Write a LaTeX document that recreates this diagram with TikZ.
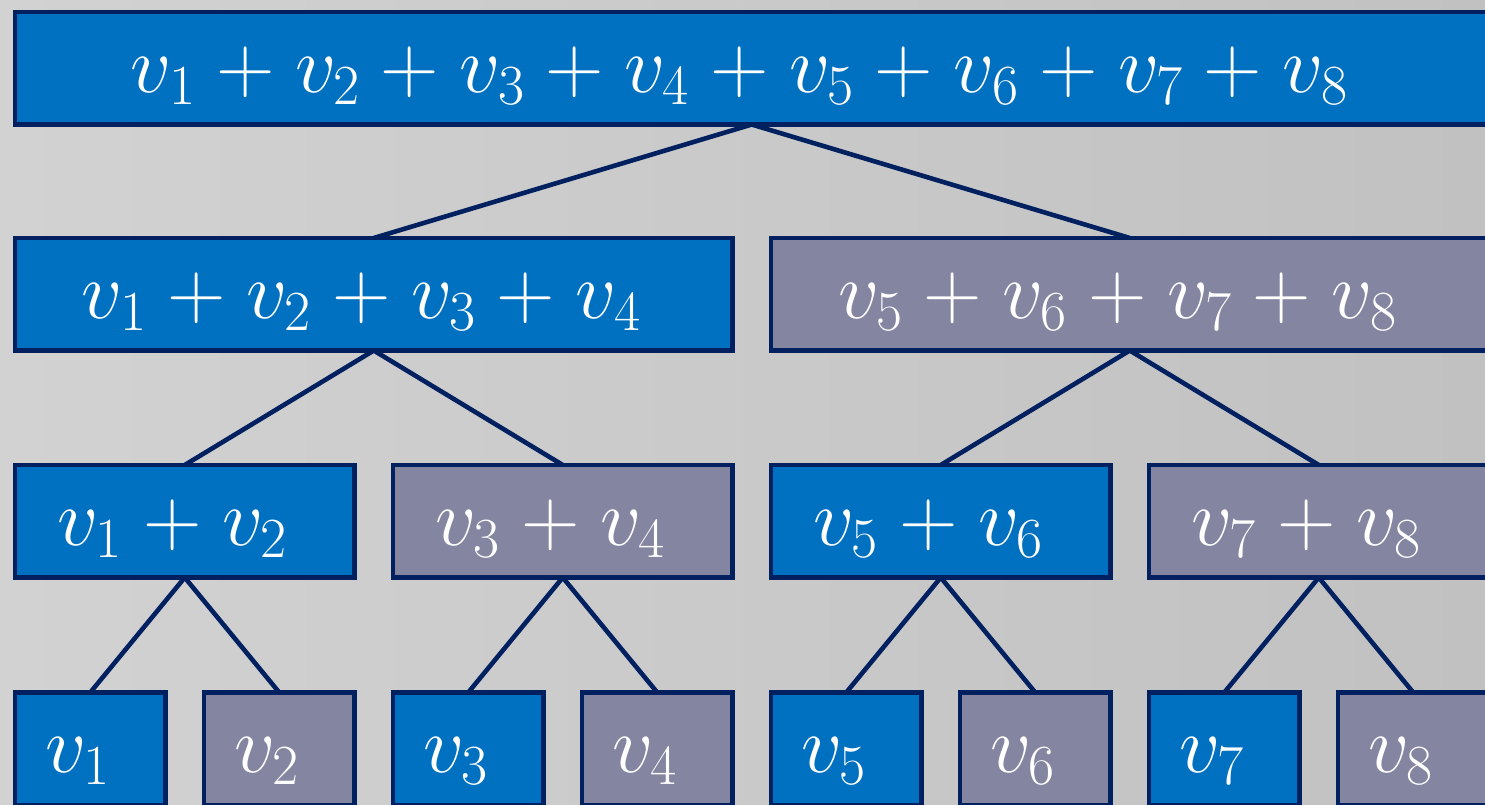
\RequirePackage{fix-cm}
\documentclass[tikz,border=0pt]{standalone}
\usepackage{amsmath}
\usetikzlibrary{backgrounds}
\definecolor{bgl}{HTML}{D2D2D2}
\definecolor{bgr}{HTML}{C1C1C1}
\definecolor{boxblue}{HTML}{0070C0}
\definecolor{boxgray}{HTML}{8485A0}
\definecolor{edgecol}{HTML}{002060}
\newcommand\mylblfont{\fontsize{81}{92}\selectfont\medmuskip=4.6mu\relax}
\tikzset{
  box/.style={draw=edgecol, line width=4.8pt, minimum height=112.5pt, inner sep=0pt, outer sep=0pt},
  bluebox/.style={box, fill=boxblue},
  graybox/.style={box, fill=boxgray},
  lbl/.style={text=white, anchor=base, inner sep=0pt, font=\mylblfont},
  link/.style={draw=edgecol, line width=4.6pt}
}
\begin{document}
\begin{tikzpicture}[x=1pt,y=-1pt]
\useasboundingbox (0,0) rectangle (1485,804);
% level 1
\node[bluebox, minimum width=1473.5pt] (r) at (751.75,68.25) {};
% level 2
\node[bluebox, minimum width=717.5pt] (a1) at (373.75,294.25) {};
\node[graybox, minimum width=717.5pt] (a2) at (1129.75,294.25) {};
% level 3
\node[bluebox, minimum width=339.5pt] (b1) at (184.75,521.25) {};
\node[graybox, minimum width=339.5pt] (b2) at (562.75,521.25) {};
\node[bluebox, minimum width=339.5pt] (b3) at (940.75,521.25) {};
\node[graybox, minimum width=339.5pt] (b4) at (1318.75,521.25) {};
% level 4
\node[bluebox, minimum width=150.5pt] (c1) at (90.25,748.75) {};
\node[graybox, minimum width=150.5pt] (c2) at (279.25,748.75) {};
\node[bluebox, minimum width=150.5pt] (c3) at (468.25,748.75) {};
\node[graybox, minimum width=150.5pt] (c4) at (657.25,748.75) {};
\node[bluebox, minimum width=150.5pt] (c5) at (846.25,748.75) {};
\node[graybox, minimum width=150.5pt] (c6) at (1035.25,748.75) {};
\node[bluebox, minimum width=150.5pt] (c7) at (1224.25,748.75) {};
\node[graybox, minimum width=150.5pt] (c8) at (1413.25,748.75) {};
% background and connectors
\begin{scope}[on background layer]
\fill[left color=bgl, right color=bgr] (0,0) rectangle (1485,804);
\draw[link] (r.south) -- (a1.north);
\draw[link] (r.south) -- (a2.north);
\draw[link] (a1.south) -- (b1.north);
\draw[link] (a1.south) -- (b2.north);
\draw[link] (a2.south) -- (b3.north);
\draw[link] (a2.south) -- (b4.north);
\draw[link] (b1.south) -- (c1.north);
\draw[link] (b1.south) -- (c2.north);
\draw[link] (b2.south) -- (c3.north);
\draw[link] (b2.south) -- (c4.north);
\draw[link] (b3.south) -- (c5.north);
\draw[link] (b3.south) -- (c6.north);
\draw[link] (b4.south) -- (c7.north);
\draw[link] (b4.south) -- (c8.north);
\end{scope}
% labels
\node[lbl] (rt) at ([xshift=-12.5pt,yshift=-80pt]r.north) {$v_1+v_2+v_3+v_4+v_5+v_6+v_7+v_8$};
\node[lbl] (a1t) at ([xshift=-12.5pt,yshift=-80pt]a1.north) {$v_1+v_2+v_3+v_4$};
\node[lbl] (a2t) at ([xshift=-12.5pt,yshift=-80pt]a2.north) {$v_5+v_6+v_7+v_8$};
\node[lbl] (b1t) at ([xshift=-12.5pt,yshift=-80pt]b1.north) {$v_1+v_2$};
\node[lbl] (b2t) at ([xshift=-12.5pt,yshift=-80pt]b2.north) {$v_3+v_4$};
\node[lbl] (b3t) at ([xshift=-12.5pt,yshift=-80pt]b3.north) {$v_5+v_6$};
\node[lbl] (b4t) at ([xshift=-12.5pt,yshift=-80pt]b4.north) {$v_7+v_8$};
\node[lbl] (c1t) at ([xshift=-12.5pt,yshift=-80pt]c1.north) {$v_1$};
\node[lbl] (c2t) at ([xshift=-12.5pt,yshift=-80pt]c2.north) {$v_2$};
\node[lbl] (c3t) at ([xshift=-12.5pt,yshift=-80pt]c3.north) {$v_3$};
\node[lbl] (c4t) at ([xshift=-12.5pt,yshift=-80pt]c4.north) {$v_4$};
\node[lbl] (c5t) at ([xshift=-12.5pt,yshift=-80pt]c5.north) {$v_5$};
\node[lbl] (c6t) at ([xshift=-12.5pt,yshift=-80pt]c6.north) {$v_6$};
\node[lbl] (c7t) at ([xshift=-12.5pt,yshift=-80pt]c7.north) {$v_7$};
\node[lbl] (c8t) at ([xshift=-12.5pt,yshift=-80pt]c8.north) {$v_8$};
\end{tikzpicture}
\end{document}
